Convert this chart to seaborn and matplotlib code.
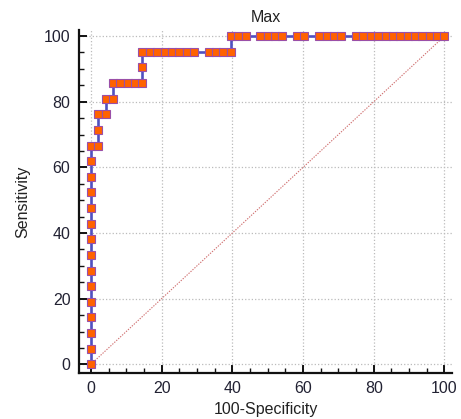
import matplotlib
matplotlib.use('Agg')
import matplotlib.pyplot as plt
import seaborn as sns
import pandas as pd
from matplotlib.ticker import MultipleLocator

# ROC points: counts of false positives (of 48 negatives)
# and true positives (of 21 positives) at each criterion
n_neg = 48
n_pos = 21
fp_counts = [0, 0, 0, 0, 0, 0, 0, 0, 0, 0, 0, 0, 0, 0, 0,
             1, 1, 1, 2, 2, 3, 3, 4, 5, 6, 7, 7, 7,
             8, 9, 10, 11, 12, 13, 14, 16, 17, 18, 19, 19,
             20, 21, 23, 24, 25, 26, 28, 29, 31, 32, 33, 34,
             36, 37, 38, 39, 40, 41, 42, 43, 44, 45, 46, 47, 48]
tp_counts = [0, 1, 2, 3, 4, 5, 6, 7, 8, 9, 10, 11, 12, 13, 14,
             14, 15, 16, 16, 17, 17, 18, 18, 18, 18, 18, 19, 20,
             20, 20, 20, 20, 20, 20, 20, 20, 20, 20, 20, 21,
             21, 21, 21, 21, 21, 21, 21, 21, 21, 21, 21, 21,
             21, 21, 21, 21, 21, 21, 21, 21, 21, 21, 21, 21, 21]

df = pd.DataFrame({
    "fpr": [100 * v / n_neg for v in fp_counts],
    "sens": [100 * v / n_pos for v in tp_counts],
})

sns.set_style("white")
plt.rcParams['font.family'] = ['Liberation Sans', 'DejaVu Sans']
plt.rcParams['font.size'] = 11.5

fig = plt.figure(figsize=(4.61, 4.19), dpi=100)
ax = fig.add_axes([0.171, 0.110, 0.810, 0.818])

# reference diagonal
ax.plot([0, 100], [0, 100], color="#D07070", lw=0.8, ls=(0, (1.2, 1.2)), zorder=2)

sns.lineplot(data=df, x="fpr", y="sens", sort=False, estimator=None, ax=ax,
             color="#5050C0", lw=1.9, marker="s", markersize=5.9,
             markerfacecolor="#FF6200", markeredgecolor="#9A4FA8",
             markeredgewidth=0.8, zorder=3)

ax.set_xlim(-3.4, 102.2)
ax.set_ylim(-2.6, 101.8)
ax.xaxis.set_major_locator(MultipleLocator(20))
ax.yaxis.set_major_locator(MultipleLocator(20))
ax.xaxis.set_minor_locator(MultipleLocator(5))
ax.yaxis.set_minor_locator(MultipleLocator(5))

ax.grid(True, which="major", color="#BBBBBB", ls=":", lw=0.9)
for s in ["top", "right"]:
    ax.spines[s].set_visible(False)
for s in ["left", "bottom"]:
    ax.spines[s].set_linewidth(1.6)
    ax.spines[s].set_color("#111111")

ax.tick_params(which="major", direction="in", length=6, width=1.4,
               color="#111111", labelsize=11.5, labelcolor="#222233", pad=6)
ax.tick_params(which="minor", direction="in", length=3.5, width=1.0,
               color="#111111")
ax.tick_params(axis="x", which="both", bottom=True)
ax.tick_params(axis="y", which="both", left=True)

ax.set_xlabel("100-Specificity", fontsize=11.5, color="#222222", labelpad=4)
ax.set_ylabel("Sensitivity", fontsize=11.5, color="#222222", labelpad=10)
ax.set_title("Max", fontsize=11.5, color="#222222", pad=6)

fig.savefig("out.png", dpi=100)
plt.close(fig)
